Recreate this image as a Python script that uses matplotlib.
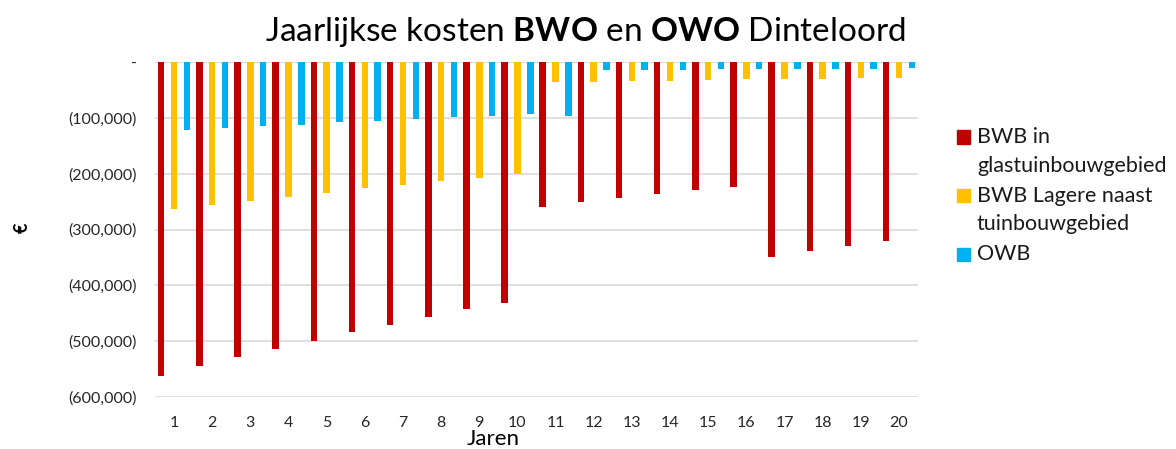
import numpy as np
import matplotlib
matplotlib.use("Agg")
import matplotlib.pyplot as plt
from matplotlib.patches import Rectangle
from matplotlib.ticker import FuncFormatter

plt.rcParams['font.family'] = ['Lato', 'DejaVu Sans']
plt.rcParams['mathtext.fontset'] = 'custom'
plt.rcParams['mathtext.rm'] = 'Lato'
plt.rcParams['mathtext.bf'] = 'Lato:bold'

# Data (euro, negative = costs)
years = list(range(1, 21))
bwb_glas = [-561500, -545000, -529000, -514000, -499000, -484000, -471000, -456000, -443000, -431000,
            -259000, -251000, -244000, -237000, -230000, -223000, -350000, -339000, -330000, -320000]
bwb_lagere = [-263000, -256000, -248500, -241000, -234000, -226000, -220000, -214000, -207000, -201000,
              -36000, -35000, -34500, -33500, -33000, -31000, -31000, -30000, -29000, -28000]
owb = [-122500, -118000, -115000, -112000, -108000, -105000, -102000, -99000, -96000, -93000,
       -97000, -14000, -14000, -13700, -13000, -12500, -12500, -12000, -12000, -11500]
labels = [['BWB in', 'glastuinbouwgebied'], ['BWB Lagere naast', 'tuinbouwgebied'], ['OWB']]
colors = ['#C00000', '#FFC000', '#00B0F0']

W, H = 1176, 449
fig = plt.figure(figsize=(W / 100, H / 100), dpi=100)
ax = fig.add_axes([155 / W, 1 - 397 / H, 763 / W, 335 / H])

x = np.arange(len(years))
step = 0.337
w = 0.17
for i, (vals, col) in enumerate(zip([bwb_glas, bwb_lagere, owb], colors)):
    ax.bar(x + (i - 1) * step, vals, width=w, color=col, zorder=3)

ax.set_xlim(-0.5, len(years) - 0.5)
ax.set_ylim(-600000, 0)
ax.set_yticks(np.arange(-600000, 1, 100000))
ax.set_xticks(x)
ax.set_xticklabels([str(y) for y in years])


def paren_fmt(v, pos):
    if v == 0:
        return '-'
    if v < 0:
        return f'({abs(v):,.0f})'
    return f'{v:,.0f}'


ax.yaxis.set_major_formatter(FuncFormatter(paren_fmt))
ax.grid(axis='y', color='#D9D9D9', linewidth=1.2, zorder=0)
for s in ax.spines.values():
    s.set_visible(False)
ax.tick_params(axis='both', length=0, labelsize=11.5, colors='#262626')
ax.tick_params(axis='y', pad=13)
ax.tick_params(axis='x', pad=14)

# axis titles
fig.text(493 / W, 1 - 439 / H, 'Jaren', ha='center', va='center', fontsize=16)
fig.text(22 / W, 1 - 228 / H, '€', ha='center', va='center', rotation=90,
         fontsize=13, fontweight='bold')

fig.text(585 / W, 1 - 32 / H, r'Jaarlijkse kosten $\bf{BWO}$ en $\bf{OWO}$ Dinteloord',
         ha='center', va='center', fontsize=24)

# legend (entries laid out like the spreadsheet legend)
for i, (lines, col) in enumerate(zip(labels, colors)):
    y0 = 137 + i * 58.5
    fig.patches.append(Rectangle((957 / W, 1 - (y0 + 6.5) / H), 13 / W, 13 / H,
                                 transform=fig.transFigure, color=col))
    for j, line in enumerate(lines):
        fig.text(977 / W, 1 - (y0 + j * 28.5) / H, line, ha='left', va='center',
                 fontsize=15.5, color='#1a1a1a')

plt.savefig('out.png', dpi=100)
